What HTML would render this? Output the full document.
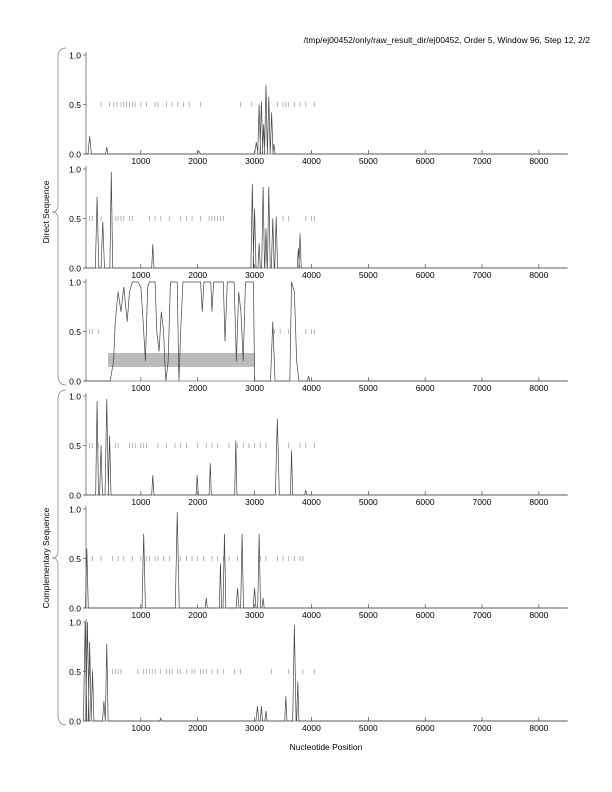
<!DOCTYPE html>
<html><head><meta charset="utf-8"><style>
html,body{margin:0;padding:0;background:#fff}
svg{display:block;font-family:"Liberation Sans",sans-serif}
</style></head><body>
<svg id="s" width="612" height="792" viewBox="0 0 612 792" xmlns="http://www.w3.org/2000/svg">
<text x="590" y="43" font-size="8.5" text-anchor="end">/tmp/ej00452/only/raw_result_dir/ej00452, Order 5, Window 96, Step 12, 2/2</text>
<text x="326" y="750" font-size="8.5" text-anchor="middle">Nucleotide Position</text>
<path d="M66,48 Q58,48 58,58 L58,205 Q58,212 52,212 Q58,212 58,219 L58,375 Q58,385 66,385" fill="none" stroke="#888" stroke-width="0.8"/>
<path d="M66,390 Q58,390 58,400 L58,551 Q58,558 52,558 Q58,558 58,565 L58,715 Q58,725 66,725" fill="none" stroke="#888" stroke-width="0.8"/>
<text transform="translate(49,212) rotate(-90)" font-size="8.5" text-anchor="middle">Direct Sequence</text>
<text transform="translate(49,558) rotate(-90)" font-size="8.5" text-anchor="middle">Complementary Sequence</text>
<g id="g"></g>
</svg>
<script>
var g=document.getElementById('g'),h='';
function X(n){return 84+n*0.05686;}
var tops=[55,169,282,396,509,622],H=99;
var dashes=[
[300,450,520,580,650,700,750,800,850,900,1000,1100,1250,1300,1450,1550,1650,1750,1850,2050,2750,2950,3400,3500,3550,3600,3700,3800,3900,4050],
[100,150,300,560,600,650,700,800,850,1150,1250,1350,1500,1700,1800,1900,2050,2200,2250,2300,2350,2400,2450,3500,3600,3900,4000,4050],
[100,150,250,3350,3450,3600,3900,4000,4050],
[100,150,250,550,600,800,850,900,1000,1050,1100,1300,1450,1600,1700,1800,2000,2150,2250,2350,2550,2700,2800,2900,3000,3100,3200,3600,3800,3900,4050],
[50,150,300,500,600,700,850,1000,1100,1150,1250,1300,1400,1500,1700,1800,1900,2000,2100,2250,2350,2450,2550,2700,3100,3200,3400,3500,3600,3700,3800,3850],
[100,150,500,550,600,650,950,1050,1100,1150,1200,1250,1350,1450,1500,1550,1650,1700,1800,1900,1950,2050,2100,2150,2250,2350,2450,2650,2750,3300,3600,3850,4050]];
var peaks=[
[[100,.18,30],[400,.07,20],[2020,.03,30],[3030,.12,30],[3080,.5,25],[3120,.53,25],[3160,.3,20],[3200,.7,25],[3250,.58,25],[3300,.42,25],[3340,.1,20]],
[[230,.72,30],[330,.47,30],[480,.97,25],[1210,.24,20],[2960,.85,25],[3000,.6,25],[3080,.25,20],[3150,.82,25],[3200,.4,20],[3250,.82,25],[3320,.5,25],[3380,.52,25],[3770,.2,20],[3800,.35,20]],
null,
[[230,.95,25],[300,.5,25],[400,.97,30],[450,.6,25],[1210,.2,20],[1990,.2,20],[2220,.32,20],[2670,.55,20],[3400,.77,35],[3650,.45,20],[3900,.05,20]],
[[50,.6,25],[1050,.75,30],[1640,.97,35],[2150,.1,20],[2400,.45,20],[2470,.75,25],[2700,.2,25],[2780,.75,25],[3000,.2,25],[3080,.75,25],[3150,.1,20]],
[[20,1,30],[60,1,30],[100,.8,25],[150,.5,25],[350,.2,25],[400,.78,25],[1350,.03,20],[3050,.15,25],[3120,.15,20],[3200,.1,20],[3550,.25,20],[3700,.97,30],[3760,.4,20]]];
var p3=[[0,0],[460,0],[520,.2],[550,.6],[600,.9],[650,.7],[700,.95],[760,.6],[800,.9],[850,1],[950,1],[1000,.95],[1040,.6],[1080,.2],[1120,.95],[1150,1],[1250,1],[1280,.5],[1320,.3],[1360,.7],[1400,.5],[1420,.2],[1440,0],[1480,.2],[1520,1],[1640,1],[1660,.3],[1670,0],[1700,.5],[1740,1],[2050,1],[2080,.7],[2110,1],[2230,1],[2250,.7],[2280,1],[2450,1],[2480,.4],[2520,1],[2640,1],[2680,.2],[2720,.9],[2760,.7],[2800,.2],[2840,1],[2980,1],[3000,0],[3280,0],[3320,.6],[3360,0],[3620,0],[3650,1],[3700,.9],[3740,.2],[3780,0],[3930,0],[3950,.05],[3970,0],[8500,0]];
for(var i=0;i<6;i++){
 var t=tops[i],b=t+H;
 h+='<line x1="86" y1="'+(t-3)+'" x2="86" y2="'+b+'" stroke="#333" stroke-width="0.6"/>';
 h+='<line x1="86" y1="'+b+'" x2="568" y2="'+b+'" stroke="#333" stroke-width="0.6"/>';
 [[0,'0.0'],[.5,'0.5'],[1,'1.0']].forEach(function(v){var y=b-v[0]*H;h+='<line x1="83" y1="'+y+'" x2="86" y2="'+y+'" stroke="#333" stroke-width="0.6"/><text x="81" y="'+(y+3.5)+'" font-size="8.5" text-anchor="end">'+v[1]+'</text>';});
 for(var k=1;k<=8;k++){var x=X(k*1000);h+='<line x1="'+x+'" y1="'+b+'" x2="'+x+'" y2="'+(b-4)+'" stroke="#333" stroke-width="0.6"/><text x="'+x+'" y="'+(b+10)+'" font-size="8.5" text-anchor="middle">'+(k*1000)+'</text>';}
 dashes[i].forEach(function(d){var x=X(d);h+='<line x1="'+x+'" y1="'+(b-H/2-2.5)+'" x2="'+x+'" y2="'+(b-H/2+2.5)+'" stroke="#999" stroke-width="0.7"/>';});
 var pts='';
 if(peaks[i]){var ps=peaks[i].slice().sort(function(a,c){return a[0]-c[0];});pts=X(0)+','+b+' ';ps.forEach(function(p){pts+=X(p[0]-p[2])+','+b+' '+X(p[0])+','+(b-p[1]*H)+' '+X(p[0]+p[2])+','+b+' ';});pts+=X(8500)+','+b;}
 else{p3.forEach(function(p){pts+=X(p[0])+','+(b-p[1]*H)+' ';});
  h+='<rect x="108" y="353" width="147" height="14" fill="#bbb"/>';}
 h+='<polyline points="'+pts+'" fill="none" stroke="#444" stroke-width="0.7"/>';
}
g.innerHTML=h;
</script>
</body></html>
